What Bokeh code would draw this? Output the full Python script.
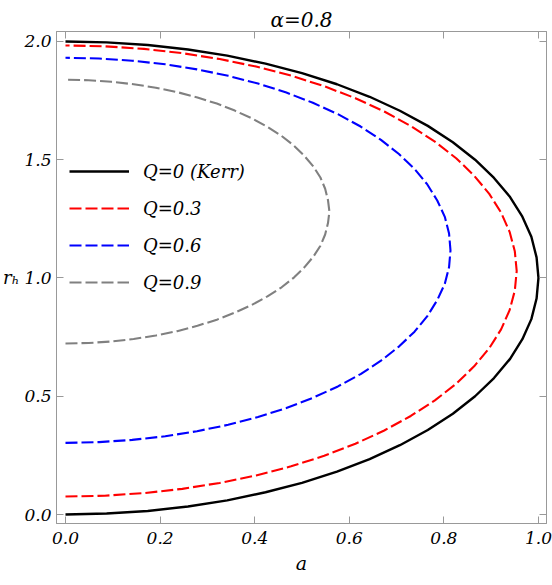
from bokeh.plotting import figure
from bokeh.models import Range1d, LinearAxis
from bokeh.embed import file_html
from bokeh.resources import INLINE

# Q = 0 (Kerr)
a_q0 = [0, .087, .174, .259, .342, .423, .5, .574, .643, .707, .766, .819, .866, .906, .940, .966, .985, .996, 1.0,
        .996, .985, .966, .940, .906, .866, .819, .766, .707, .643, .574, .5, .423, .342, .259, .174, .087, 0]
r_q0 = [0, .004, .015, .034, .060, .094, .134, .181, .234, .293, .357, .426, .5, .577, .658, .741, .826, .913, 1.0,
        1.087, 1.174, 1.259, 1.342, 1.423, 1.5, 1.574, 1.643, 1.707, 1.766, 1.819, 1.866, 1.906, 1.940, 1.966, 1.985, 1.996, 2.0]
# Q = 0.3
a_q3 = [0, .083, .166, .247, .326, .403, .477, .547, .613, .674, .730, .781, .826, .864, .896, .921, .939, .950, .954,
        .950, .939, .921, .896, .864, .826, .781, .730, .674, .613, .547, .477, .403, .326, .247, .166, .083, 0]
r_q3 = [.076, .0796, .0905, .1085, .1335, .1653, .2037, .2484, .2991, .3553, .4166, .4826, .5527, .6265, .7034, .7827, .8639, .9464, 1.0295,
        1.1126, 1.1951, 1.2763, 1.3556, 1.4325, 1.5063, 1.5764, 1.6424, 1.7037, 1.7599, 1.8106, 1.8553, 1.8937, 1.9255, 1.9505, 1.9685, 1.9794, 1.983]
# Q = 0.6
a_q6 = [0, .071, .141, .211, .278, .344, .407, .467, .523, .576, .624, .667, .705, .738, .765, .786, .802, .811, .814,
        .811, .802, .786, .765, .738, .705, .667, .624, .576, .523, .467, .407, .344, .278, .211, .141, .071, 0]
r_q6 = [.303, .3061, .3154, .3307, .3521, .3793, .412, .4502, .4934, .5414, .5938, .6501, .710, .773, .8386, .9063, .9756, 1.046, 1.117,
        1.188, 1.2584, 1.3277, 1.3954, 1.461, 1.524, 1.5839, 1.6402, 1.6926, 1.7406, 1.7838, 1.822, 1.8547, 1.8819, 1.9033, 1.9186, 1.9279, 1.931]
# Q = 0.9
a_q9 = [0, .049, .097, .144, .191, .236, .279, .320, .358, .394, .427, .457, .483, .505, .524, .539, .549, .555, .558,
        .555, .549, .539, .524, .505, .483, .457, .427, .394, .358, .320, .279, .236, .191, .144, .097, .049, 0]
r_q9 = [.723, .7251, .7315, .742, .7566, .7752, .7977, .8238, .8534, .8863, .9221, .9607, 1.0017, 1.0449, 1.0898, 1.1362, 1.1837, 1.2319, 1.2805,
        1.3291, 1.3773, 1.4248, 1.4712, 1.5161, 1.5593, 1.6003, 1.6389, 1.6747, 1.7076, 1.7372, 1.7633, 1.7858, 1.8044, 1.819, 1.8295, 1.8359, 1.838]

labels = ["Q=0 (Kerr)", "Q=0.3", "Q=0.6", "Q=0.9"]
colors = ["black", "#FF0000", "#0000FF", "#808080"]

x_ticks = [0.0, 0.2, 0.4, 0.6, 0.8, 1.0]
y_ticks = [0.0, 0.5, 1.0, 1.5, 2.0]
title_text = "\u03b1=0.8"
x_label = "a"
y_label = "r\u2095"

FONT = "DejaVu Serif"

p = figure(width=552, height=585,
           x_range=Range1d(-0.019, 1.017), y_range=Range1d(-0.038, 2.042),
           output_backend="svg", toolbar_location=None,
           min_border_left=55, min_border_right=6, min_border_top=31, min_border_bottom=62)

p.title.text = title_text
p.title.text_font = FONT
p.title.text_font_style = "italic"
p.title.text_font_size = "20px"
p.title.align = "center"
p.title.text_color = "black"
p.title.standoff = 0
p.title.offset = 0

p.grid.visible = False
p.outline_line_color = "#999999"
p.outline_line_width = 1

curves = [(a_q0, r_q0), (a_q3, r_q3), (a_q6, r_q6), (a_q9, r_q9)]
for i, (xs, ys) in enumerate(curves):
    kw = {}
    if i > 0:
        kw["line_dash"] = "12 4"
    p.line(xs, ys, line_color=colors[i], line_width=2.4 if i == 0 else 2.1,
           line_join="round", legend_label=labels[i], **kw)

def style_axis(ax, labels_on=True):
    ax.axis_line_color = "#999999"
    ax.major_tick_in = 7
    ax.major_tick_out = 0
    ax.minor_tick_in = 4
    ax.minor_tick_out = 0
    ax.major_tick_line_color = "#999999"
    ax.minor_tick_line_color = "#999999"
    ax.major_label_text_font = FONT
    ax.major_label_text_font_style = "italic"
    ax.major_label_text_color = "black"
    if labels_on:
        ax.major_label_text_font_size = "17px"
    else:
        ax.major_label_text_font_size = "0px"
        ax.major_label_standoff = 0

xa = p.xaxis[0]
xa.ticker = x_ticks
xa.ticker.num_minor_ticks = 4
style_axis(xa)
xa.major_label_overrides = {t: f"{t:.1f}" for t in x_ticks}
xa.major_label_standoff = 8
xa.axis_label = x_label
xa.axis_label_text_font = FONT
xa.axis_label_text_font_style = "italic"
xa.axis_label_text_font_size = "19px"
xa.axis_label_text_color = "black"
xa.axis_label_standoff = 5

ya = p.yaxis[0]
ya.ticker = y_ticks
ya.ticker.num_minor_ticks = 5
style_axis(ya)
ya.major_label_overrides = {t: f"{t:.1f}" for t in y_ticks}
ya.major_label_standoff = 5
ya.axis_label = y_label
ya.axis_label_text_font = FONT
ya.axis_label_text_font_style = "italic"
ya.axis_label_text_font_size = "18px"
ya.axis_label_text_color = "black"
ya.axis_label_standoff = 2
if hasattr(ya, "axis_label_orientation"):
    ya.axis_label_orientation = "horizontal"

top = LinearAxis(ticker=x_ticks)
top.ticker.num_minor_ticks = 4
style_axis(top, labels_on=False)
p.add_layout(top, "above")
right = LinearAxis(ticker=y_ticks)
right.ticker.num_minor_ticks = 5
style_axis(right, labels_on=False)
p.add_layout(right, "right")

lg = p.legend[0]
lg.location = (13, 230)
lg.glyph_width = 60
lg.glyph_height = 22
lg.label_height = 22
lg.spacing = 15
lg.padding = 0
lg.margin = 0
lg.label_standoff = 14
lg.border_line_color = None
lg.background_fill_alpha = 0
lg.label_text_font = FONT
lg.label_text_font_style = "italic"
lg.label_text_font_size = "18px"
lg.label_text_color = "black"

open("out.html", "w").write(file_html(p, INLINE))
